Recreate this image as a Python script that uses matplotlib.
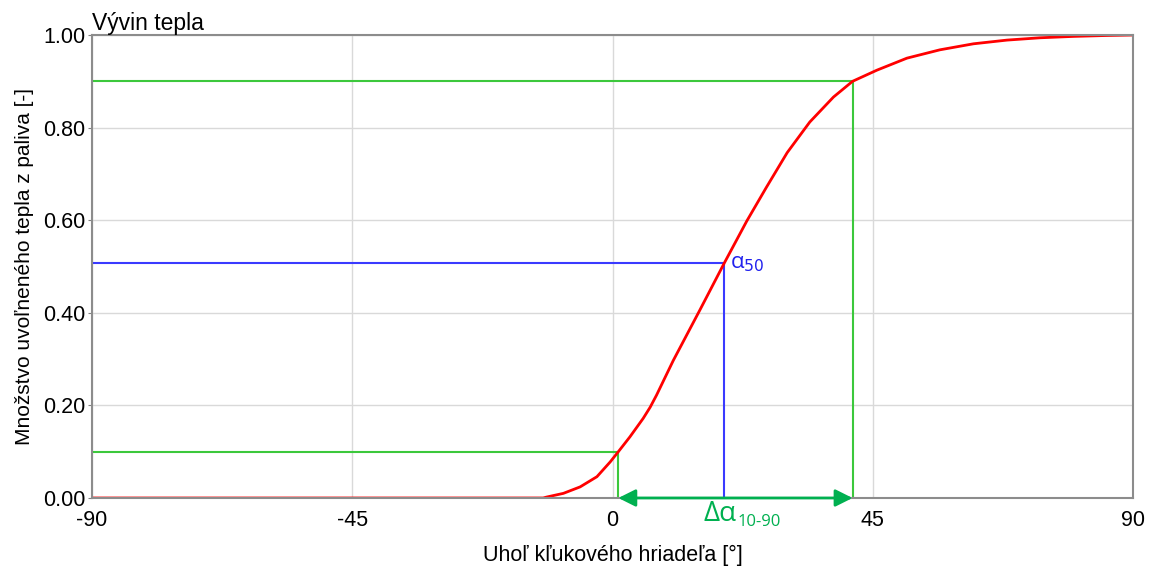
import numpy as np
import matplotlib.pyplot as plt

plt.rcParams['font.family'] = ['Liberation Sans', 'DejaVu Sans']

# priebeh vyvinu tepla (odcitane z obrazka)
uhol = [-90, -12, -11.4, -8.5, -5.6, -2.7, -0.4, 1.0, 3.0, 5.3, 6.5, 7.6, 10.5,
        15.1, 19.3, 23.2, 26.6, 30.2, 34.1, 38.2, 41.5, 45.7, 50.9, 56.6, 62.4,
        68.2, 73.9, 79.7, 85.5, 90]
teplo = [0.0, 0.0, 0.002, 0.010, 0.024, 0.046, 0.078, 0.10, 0.132, 0.172, 0.196, 0.222, 0.297,
         0.406, 0.507, 0.598, 0.671, 0.746, 0.812, 0.866, 0.90, 0.924, 0.950, 0.968, 0.981,
         0.989, 0.994, 0.997, 0.999, 1.0]

# charakteristicke body
a10, q10 = 1.0, 0.10
a50, q50 = 19.3, 0.507
a90, q90 = 41.5, 0.90

x_ticks = [-90, -45, 0, 45, 90]
y_ticks = [0.0, 0.2, 0.4, 0.6, 0.8, 1.0]

zelena = '#3cc83c'
tmava_zelena = '#00b050'
modra = '#3a3aff'

fig = plt.figure(figsize=(11.55, 5.72), dpi=100)
ax = fig.add_axes([0.0797, 0.1294, 0.9013, 0.8094])

ax.grid(True, color='#d9d9d9', linewidth=1.0)
ax.set_axisbelow(True)

# pomocne ciary
ax.plot([-90, a10, a10], [q10, q10, 0], color=zelena, linewidth=1.5)
ax.plot([-90, a90, a90], [q90, q90, 0], color=zelena, linewidth=1.5)
ax.plot([-90, a50, a50], [q50, q50, 0], color=modra, linewidth=1.5)

ax.plot(uhol, teplo, color='red', linewidth=2, solid_joinstyle='round')

ax.annotate('', xy=(a10, 0), xytext=(a90, 0),
            arrowprops=dict(arrowstyle='<|-|>', color=tmava_zelena, linewidth=2,
                            mutation_scale=26, shrinkA=0, shrinkB=0),
            annotation_clip=False)

ax.text(a50 + 1, q50, r'α$_{50}$', color='#2020ee', fontsize=16,
        family=['Open Sans', 'DejaVu Sans'], ha='left', va='center')
ax.text(21.5, -0.005, 'Δα', color=tmava_zelena, fontsize=20,
        family=['Open Sans', 'DejaVu Sans'], ha='right', va='top')
ax.text(21.6, -0.035, '10-90', color=tmava_zelena, fontsize=12,
        family=['Open Sans', 'DejaVu Sans'], ha='left', va='top')

ax.set_xlim(-90, 90)
ax.set_ylim(0, 1)
ax.set_xticks(x_ticks)
ax.set_xticklabels([str(t) for t in x_ticks])
ax.set_yticks(y_ticks)
ax.set_yticklabels(['%.2f' % t for t in y_ticks])
ax.tick_params(labelsize=15.5, color='#808080', length=3, pad=2)
ax.tick_params(axis='x', length=0, pad=9)

for s in ax.spines.values():
    s.set_color('#8c8c8c')
    s.set_linewidth(1.5)

ax.set_title('Vývin tepla', loc='left', fontsize=16.5, pad=1)
ax.set_xlabel('Uhoľ kľukového hriadeľa [°]', fontsize=15.5, labelpad=10)
ax.set_ylabel('Množstvo uvoľneného tepla z paliva [-]', fontsize=15, labelpad=6)

fig.savefig('out.png', dpi=100)
